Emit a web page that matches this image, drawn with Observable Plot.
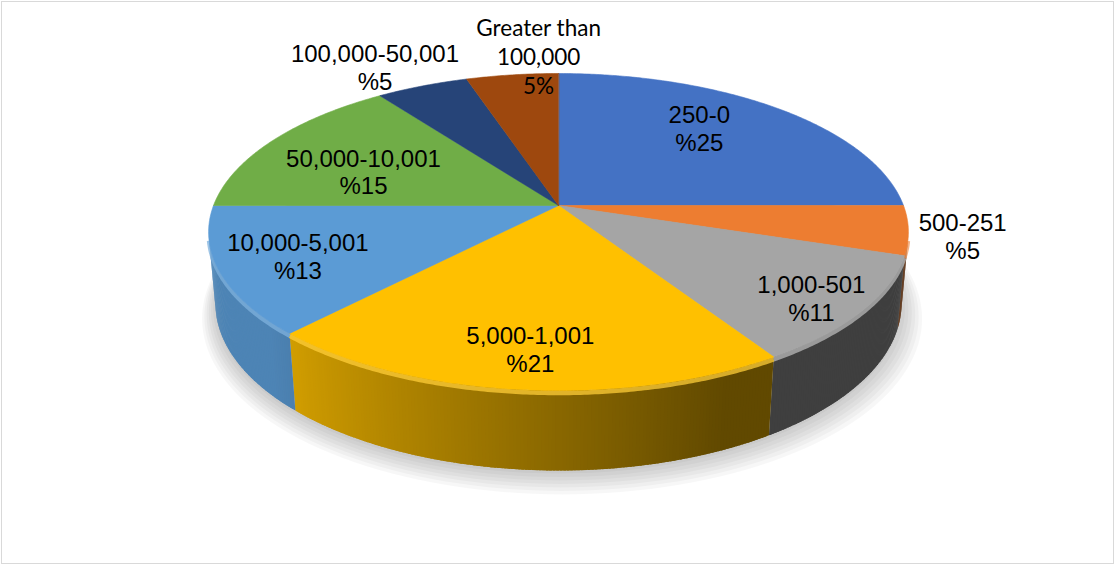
<!DOCTYPE html>
<html><head><meta charset="utf-8">
<script src="https://cdn.jsdelivr.net/npm/d3@7"></script>
<script src="https://cdn.jsdelivr.net/npm/@observablehq/plot@0.6"></script>
<style>
body{margin:0;background:#fff;}
#wrap{position:relative;width:1115px;height:565px;overflow:hidden;}
#frame{position:absolute;left:1px;top:1px;width:1113px;height:563px;box-sizing:border-box;border:1px solid #d9d9d9;pointer-events:none;}
</style></head><body>
<div id="wrap"><div id="chart"></div><div id="frame"></div></div>
<script>
// ---- data ----
const categories = ["250-0","500-251","1,000-501","5,000-1,001","10,000-5,001","50,000-10,001","100,000-50,001","Greater than\n100,000"];
const values = [25,5,11,21,13,15,5,5];
const percentLabels = ["%25","%5","%11","%21","%13","%15","%5","5%"];
const colors = ["#4472C4","#ED7D31","#A5A5A5","#FFC000","#5B9BD5","#70AD47","#264478","#9E480E"];

// ---- layout (perspective 3D pie) ----
const W = 1115, H = 565;
const cx = 558, cy = 205, f = 1846, D = 5.351, sinP = 0.4466, cosP = 0.8947, T = 0.2325;
const labelR = [0.71, 1.15, 0.86, 0.81, 0.78, 0.63, 1.23, 1.16];
const labelDA = [-6.1, 0.75, 1.4, -0.4, 0.1, -5.7, -3.6, 5.6];
const toRad = Math.PI / 180;

function proj(theta, r, h) {
  const u = r * Math.sin(theta), v = r * Math.cos(theta);
  const yc = v * sinP + h * cosP;
  const zc = D + v * cosP - h * sinP;
  return [cx + f * u / zc, cy - f * yc / zc, zc];
}
function shade(col, deg) {
  const k = Math.max(0.38, Math.min(0.85, 0.83 - (225 - deg) * 0.0065));
  const c = d3.rgb(col);
  return d3.rgb(c.r * k, c.g * k, c.b * k).formatHex();
}
const visibleCos = -1 / (D * cosP);

const pie = d3.pie().sort(null).value(d => d)(values);
const topRows = [], sideRows = [], rimRows = [], shadowRows = [], labelRows = [];

// soft shadow
for (let k = 0; k < 7; k++) {
  for (let a = 0; a < 360; a += 2) {
    const p = proj(a * toRad, 1 + k * 0.008, -T);
    shadowRows.push({id: "sh" + k, x: p[0] + k * 0.6, y: p[1] + 3 + k * 1.6});
  }
}

pie.forEach((a, i) => {
  const id = "s" + i;
  const span = a.endAngle - a.startAngle;
  const c0 = proj(0, 0, 0);
  topRows.push({id, x: c0[0], y: c0[1], fill: colors[i]});
  const n = Math.max(2, Math.ceil(span / (0.5 * toRad)));
  for (let k = 0; k <= n; k++) {
    const t = a.startAngle + span * k / n;
    const p = proj(t, 1, 0);
    topRows.push({id, x: p[0], y: p[1], fill: colors[i]});
  }
  // side strips (overlapping to hide seams)
  const m = Math.max(1, Math.ceil(span / (0.5 * toRad)));
  const step = span / m;
  let seg = 0, prevVis = false;
  for (let k = 0; k < m; k++) {
    const t0 = a.startAngle + step * k, t1 = t0 + step;
    const tm = (t0 + t1) / 2;
    const vis = Math.cos(tm) < visibleCos;
    if (!vis) { prevVis = false; continue; }
    if (!prevVis) seg++;
    prevVis = true;
    const sid = id + "_" + k;
    const fc = shade(colors[i], tm / toRad);
    const t1e = (k < m - 1) ? t1 + step * 0.8 : t1;
    for (const [t, h] of [[t0, 0], [t1e, 0], [t1e, -T], [t0, -T]]) {
      const p = proj(t, 1, h);
      sideRows.push({id: sid, x: p[0], y: p[1], fill: fc});
    }
    const hl = d3.interpolateRgb(colors[i], "#ffffff")(0.22);
    for (const t of [t0, t1]) {
      const p = proj(t, 1, -0.007);
      rimRows.push({id: id + "r" + seg, x: p[0], y: p[1], stroke: hl});
    }
  }
  // label
  const mid = (a.startAngle + a.endAngle) / 2 + labelDA[i] * toRad;
  const lp = proj(mid, labelR[i], 0);
  labelRows.push({x: lp[0], y: lp[1], text: categories[i] + "\n" + percentLabels[i], calibri: i === 7});
});

const chart = Plot.plot({
  width: W, height: H, margin: 0,
  x: {domain: [0, W], range: [0, W], axis: null},
  y: {domain: [0, H], range: [0, H], axis: null},
  color: {type: "identity"},
  style: {background: "#fff"},
  marks: [
    Plot.line(shadowRows, {x: "x", y: "y", z: "id", curve: "linear-closed", fill: "#000", fillOpacity: 0.03, stroke: "none"}),
    Plot.line(sideRows, {x: "x", y: "y", z: "id", curve: "linear-closed", fill: "fill", stroke: "none"}),
    Plot.line(rimRows, {x: "x", y: "y", z: "id", stroke: "stroke", strokeWidth: 4.5, strokeOpacity: 0.75, strokeLinecap: "butt"}),
    Plot.line(topRows, {x: "x", y: "y", z: "id", curve: "linear-closed", fill: "fill", stroke: "fill", strokeWidth: 0.6}),
    Plot.text(labelRows.filter(d => !d.calibri), {x: "x", y: "y", text: "text", fontSize: 24, fontFamily: "'Liberation Sans', Arial, sans-serif", lineHeight: 1.167, fill: "#000", textAnchor: "middle"}),
    Plot.text(labelRows.filter(d => d.calibri), {x: "x", y: "y", text: "text", fontSize: 22.5, fontFamily: "Lato, sans-serif", lineHeight: 1.29, fill: "#000", textAnchor: "middle"})
  ]
});
document.getElementById("chart").appendChild(chart);
</script>
</body></html>
